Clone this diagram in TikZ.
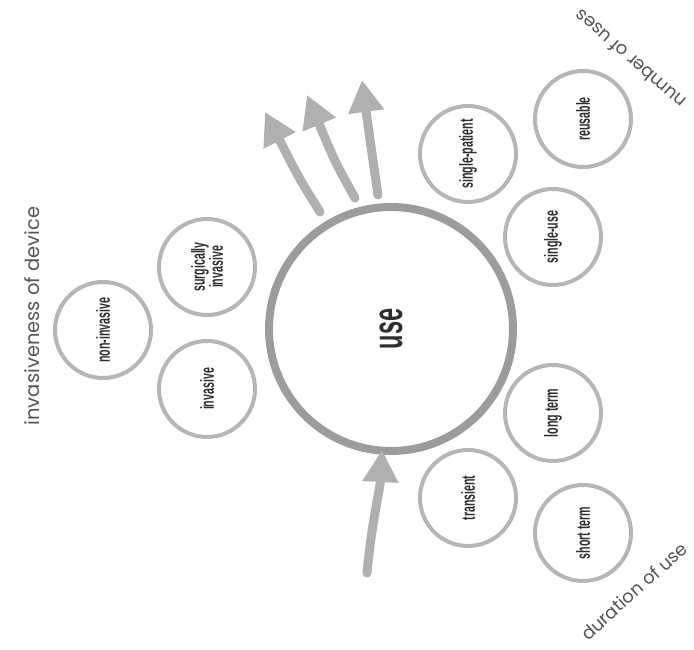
\documentclass[tikz,border=0pt]{standalone}
\usepackage{fontspec}
\setmainfont{Poppins}
\newfontfamily\condfont[FakeStretch=0.56]{Liberation Sans}
\usetikzlibrary{arrows.meta}

\definecolor{ringgray}{HTML}{9C9C9C}
\definecolor{optgray}{HTML}{B6B6B6}
\definecolor{arrowgray}{HTML}{B0B0B0}
\definecolor{textdark}{HTML}{2E2E2E}
\definecolor{labelgray}{HTML}{555555}

\begin{document}
\begin{tikzpicture}[x=1pt, y=1pt,
    opt/.style={circle, draw=optgray, line width=4pt, minimum size=96pt, inner sep=0pt,
        rotate=90, align=center, text=textdark,
        font=\condfont\bfseries\fontsize{19}{18}\selectfont},
    flow/.style={draw=arrowgray, line width=9pt, line cap=round,
        -{Triangle[width=34pt, length=32pt]}},
    topic/.style={text=labelgray, font=\fontsize{18}{22}\selectfont}]
    \useasboundingbox (0,0) rectangle (694,650);

    % central circle
    \node[circle, draw=ringgray, line width=8pt, minimum size=244pt, rotate=90,
        text=textdark, font=\condfont\bfseries\fontsize{42}{42}\selectfont] (use) at (391,321) {use};

    % invasiveness of device
    \node[opt] (noninv) at (103,320) {non-invasive};
    \node[opt] (surg)   at (207,383) {surgically\\invasive};
    \node[opt] (inv)    at (207,261) {invasive};
    \node[topic, rotate=90, font=\fontsize{19.5}{22}\selectfont] (invlabel) at (32,334) {invasiveness of device};

    % number of uses
    \node[opt] (reuse)   at (583,531) {reusable};
    \node[opt] (patient) at (468,496) {single-patient};
    \node[opt] (single)  at (553,413) {single-use};
    \node[topic, rotate=139] (numlabel) at (630,591) {number of uses};

    % duration of use
    \node[opt] (long)      at (553,237) {long term};
    \node[opt] (transient) at (468,152) {transient};
    \node[opt] (short)     at (583,117) {short term};
    \node[topic, rotate=42] (durlabel) at (634,59) {duration of use};

    % arrows
    \coordinate (outA) at (320,438);
    \coordinate (tipA) at (265,538);
    \coordinate (outB) at (355,452);
    \coordinate (tipB) at (307,555);
    \coordinate (outC) at (378,455);
    \coordinate (tipC) at (362,570);
    \coordinate (inflow) at (367,77);
    \coordinate (tipIn) at (382,200);

    \draw[flow] (outA) .. controls (300,470) .. (tipA);
    \draw[flow] (outB) .. controls (335,488) .. (tipB);
    \draw[flow] (outC) .. controls (370,510) .. (tipC);
    \draw[flow] (inflow) .. controls (372,130) and (380,160) .. (tipIn);
\end{tikzpicture}
\end{document}
